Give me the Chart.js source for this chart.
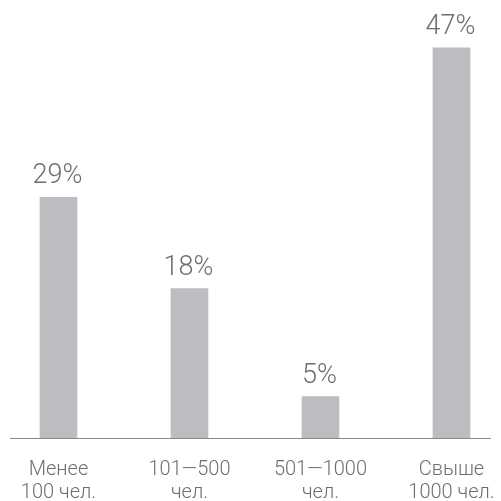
<!DOCTYPE html>
<html>
<head>
<meta charset="utf-8">
<script src="https://cdn.jsdelivr.net/npm/chart.js@4/dist/chart.umd.min.js"></script>
<style>
  html, body { margin: 0; padding: 0; background: #ffffff; overflow: hidden; }
  #wrap { width: 501px; height: 501px; position: relative; }
</style>
</head>
<body>
<div id="wrap"><canvas id="c" width="501" height="501"></canvas></div>
<script>
// Company size groups and share of respondents (%)
const categories = [
  ['Менее', '100 чел.'],
  ['101—500', 'чел.'],
  ['501—1000', 'чел.'],
  ['Свыше', '1000 чел.']
];
const shares = [29, 18, 5, 47];
const valueLabels = ['29%', '18%', '5%', '47%'];

const TEXT = '#6d6e71';
const BAR = '#bcbdc0';

// Percentage caption above each bar
const valueCaptions = {
  id: 'valueCaptions',
  afterDatasetsDraw(chart) {
    const ctx = chart.ctx;
    const meta = chart.getDatasetMeta(0);
    ctx.save();
    ctx.fillStyle = TEXT;
    ctx.font = '300 27px Roboto, "DejaVu Sans", sans-serif';
    ctx.textAlign = 'center';
    ctx.textBaseline = 'alphabetic';
    meta.data.forEach((bar, i) => {
      const p = bar.getProps(['x', 'y'], true);
      ctx.fillText(valueLabels[i], p.x - 1, p.y - 14);
    });
    ctx.restore();
  }
};

new Chart(document.getElementById('c'), {
  type: 'bar',
  data: {
    datasets: [{
      data: shares.map((v, i) => ({ x: i, y: v })),
      backgroundColor: BAR,
      borderWidth: 0,
      barThickness: 37
    }]
  },
  options: {
    responsive: false,
    animation: false,
    layout: { padding: { left: 10, right: 11, top: 23, bottom: 0 } },
    plugins: { legend: { display: false }, tooltip: { enabled: false } },
    scales: {
      x: {
        type: 'linear',
        offset: false,
        bounds: 'ticks',
        min: -0.37,
        max: 3.294,
        afterBuildTicks(axis) {
          axis.ticks = categories.map((_, i) => ({ value: i }));
        },
        afterFit(axis) {
          // fixed band for the two-line labels; labels may extend past the plot edges
          axis.height = 63;
          axis.paddingLeft = 0;
          axis.paddingRight = 0;
        },
        grid: { display: false, drawTicks: false, offset: false },
        border: { display: true, color: '#8a8a8c', width: 1 },
        ticks: {
          autoSkip: false,
          maxRotation: 0,
          padding: 20,
          color: TEXT,
          font: { family: 'Roboto, "DejaVu Sans", sans-serif', size: 20, weight: '300', lineHeight: 1.15 },
          callback: (v) => categories[v]
        }
      },
      y: {
        display: false,
        min: 0,
        max: 50
      }
    }
  },
  plugins: [valueCaptions]
});
</script>
</body>
</html>
